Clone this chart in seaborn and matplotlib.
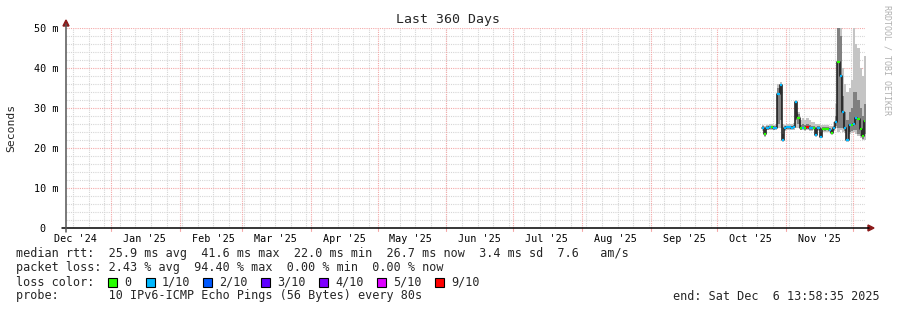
import matplotlib
matplotlib.use("Agg")
import matplotlib.pyplot as plt
import seaborn as sns
import pandas as pd
from matplotlib.patches import Polygon, Rectangle
from matplotlib.lines import Line2D

# ---------------- data ----------------
range_start = "2024-12-11 13:58:35"
range_end = "2025-12-06 13:58:35"
first_day = "2025-10-21"

median_ms = [25.1, 23.5, 25.0, 25.2, 25.2, 25.0, 25.1, 33.5, 35.7, 22.0, 25.0,
             25.2, 25.2, 25.1, 25.3, 31.6, 27.5, 25.0, 25.1, 25.0, 25.2, 25.0, 24.9, 25.1, 23.2, 25.0,
             22.8, 24.8, 24.7, 24.8, 24.6, 23.7, 25.0, 26.5, 41.6, 38.0, 29.0, 25.0, 22.0, 25.7, 25.8,
             26.0, 27.5, 27.3, 24.7, 23.0, 26.7]
smoke_outer_hi = [25.8, 25.5, 25.8, 26.0, 26.0, 25.8, 26.0, 36.0, 36.6, 26.0, 25.8,
                  26.0, 26.0, 25.9, 26.2, 32.0, 29.0, 27.0, 27.5, 27.0, 27.5, 27.0, 26.5, 26.5, 26.0, 26.0,
                  25.8, 25.8, 25.8, 25.8, 25.6, 25.5, 26.5, 31.0, 55.0, 55.0, 40.0, 36.0, 34.0, 35.0, 37.0,
                  52.0, 46.0, 45.0, 40.0, 38.0, 43.0]
smoke_outer_lo = [24.3, 22.8, 24.4, 24.5, 24.6, 24.4, 24.5, 25.0, 25.0, 21.6, 24.3,
                  24.5, 24.6, 24.4, 24.6, 25.0, 25.0, 24.4, 24.5, 24.3, 24.5, 24.3, 24.2, 24.4, 22.8, 24.3,
                  22.4, 24.1, 24.0, 24.1, 23.9, 23.2, 24.2, 25.0, 24.0, 24.5, 24.0, 23.8, 21.5, 23.5, 23.8,
                  24.0, 23.5, 23.0, 22.5, 22.0, 22.0]
smoke_inner_hi = [25.5, 24.5, 25.5, 25.6, 25.6, 25.4, 25.6, 35.0, 36.0, 23.5, 25.4,
                  25.6, 25.6, 25.5, 25.7, 31.8, 28.5, 25.8, 26.0, 25.8, 26.0, 25.7, 25.5, 25.6, 24.5, 25.5,
                  24.0, 25.3, 25.2, 25.3, 25.1, 24.5, 25.6, 28.0, 55.0, 48.0, 33.0, 29.0, 27.0, 29.0, 30.0,
                  34.0, 34.0, 32.0, 30.0, 28.0, 31.0]
smoke_inner_lo = [24.7, 23.0, 24.6, 24.8, 24.8, 24.6, 24.7, 26.0, 27.0, 21.8, 24.6,
                  24.8, 24.8, 24.7, 24.9, 27.0, 26.0, 24.6, 24.7, 24.6, 24.8, 24.6, 24.5, 24.7, 23.0, 24.6,
                  22.6, 24.4, 24.3, 24.4, 24.2, 23.4, 24.5, 25.5, 25.0, 25.0, 25.0, 24.2, 21.8, 24.0, 24.2,
                  24.5, 24.5, 23.5, 23.0, 22.3, 23.5]
loss = ['1/10', '0', '1/10', '1/10', '0', '1/10', '1/10', '1/10', '1/10', '1/10', '1/10',
        '1/10', '1/10', '1/10', '1/10', '1/10', '0', '0', '1/10', '0', '9/10', '1/10', '1/10', '0', '1/10', '1/10',
        '1/10', '0', '0', '0', '1/10', '0', '1/10', '1/10', '0', '1/10', '1/10', '1/10', '1/10', '1/10', '0',
        '1/10', '1/10', '0', '0', '0', '0']

loss_labels = ['0', '1/10', '2/10', '3/10', '4/10', '5/10', '9/10']
loss_colors = ['#26ff00', '#00b8ff', '#0059ff', '#5e00ff', '#7e00ff', '#dd00ff', '#ff0000']

month_labels = ["Dec '24", "Jan '25", "Feb '25", "Mar '25", "Apr '25", "May '25", "Jun '25",
                "Jul '25", "Aug '25", "Sep '25", "Oct '25", "Nov '25"]
y_ticks = [0, 10, 20, 30, 40, 50]
y_tick_labels = ["0  ", "10 m", "20 m", "30 m", "40 m", "50 m"]

title = "Last 360 Days"
stats_lines = [
    "median rtt:  25.9 ms avg  41.6 ms max  22.0 ms min  26.7 ms now  3.4 ms sd  7.6   am/s",
    "packet loss: 2.43 % avg  94.40 % max  0.00 % min  0.00 % now",
]
probe_line = "probe:       10 IPv6-ICMP Echo Pings (56 Bytes) every 80s"
end_line = "end: Sat Dec  6 13:58:35 2025"

# ---------------- figure ----------------
W, H = 897, 310
sns.set_style("white")
plt.rcParams['font.family'] = ['DejaVu Sans Mono', 'DejaVu Sans']
fig = plt.figure(figsize=(W / 100, H / 100), dpi=100)
fig.patch.set_facecolor("white")

L, R, T, B = 65.6, 865.4, 28, 228
ax = fig.add_axes([L / W, 1 - B / H, (R - L) / W, (B - T) / H])
ax.set_facecolor("white")

t0 = pd.Timestamp(range_start)
t1 = pd.Timestamp(range_end)
ax.set_xlim(t0, t1)
ax.set_ylim(0, 50)

# grid
minor_grid = dict(color='#d6d6d6', lw=0.8, ls=(0, (1, 1)), zorder=0)
major_grid = dict(color='#f4a8a8', lw=0.8, ls=(0, (1, 1)), zorder=0.5)
for yv in range(2, 51, 2):
    if yv % 10:
        ax.axhline(yv, **minor_grid)
for yv in range(10, 51, 10):
    ax.axhline(yv, **major_grid)
for d in pd.date_range("2024-12-15", t1, freq="7D"):
    ax.axvline(d, **minor_grid)
for d in pd.date_range("2025-01-01", t1, freq="MS"):
    ax.axvline(d, **major_grid)

# data frame
dates = pd.date_range(first_day, periods=len(median_ms), freq="D")
df = pd.DataFrame({"date": dates, "median": median_ms, "ohi": smoke_outer_hi, "olo": smoke_outer_lo,
                   "ihi": smoke_inner_hi, "ilo": smoke_inner_lo, "loss": loss})
ext = pd.concat([df, df.iloc[[-1]].assign(date=dates[-1] + pd.Timedelta(days=1))], ignore_index=True)

ax.fill_between(ext["date"], ext["olo"], ext["ohi"], step="post", color="#c4c4c4", lw=0, zorder=2)
ax.fill_between(ext["date"], ext["ilo"], ext["ihi"], step="post", color="#808080", lw=0, zorder=3)

sns.lineplot(data=ext, x="date", y="median", drawstyle="steps-post", color="#151515", lw=1.1,
             ax=ax, zorder=4, legend=False)
cmap = dict(zip(loss_labels, loss_colors))
ax.hlines(df["median"], df["date"], df["date"] + pd.Timedelta(days=1),
          colors=[cmap[l] for l in df["loss"]], lw=1.6, zorder=5)

# ticks
label_pos = [pd.Timestamp("2024-12-16") + pd.DateOffset(months=i) for i in range(len(month_labels))]
ax.set_xticks(label_pos)
ax.set_xticklabels(month_labels)
ax.set_yticks(y_ticks)
ax.set_yticklabels(y_tick_labels)
ax.tick_params(axis='both', length=0, labelsize=7.3, colors='black')
ax.tick_params(axis='x', pad=4)
ax.tick_params(axis='y', pad=5)
ax.set_xlabel("")
ax.set_ylabel("")
for s in ax.spines.values():
    s.set_visible(False)

# axis lines and arrows (figure pixel coords, origin bottom-left)
def fy(y):
    return H - y

fig.add_artist(Line2D([62 / W, 869 / W], [fy(228) / H, fy(228) / H], color='black', lw=1.1,
                      transform=fig.transFigure))
fig.add_artist(Line2D([66 / W, 66 / W], [fy(232) / H, fy(24) / H], color='#555555', lw=1.1,
                      transform=fig.transFigure))
arrow_col = '#8b1a1a'
fig.add_artist(Polygon([[868 / W, fy(225) / H], [868 / W, fy(231) / H], [874 / W, fy(228) / H]],
                       closed=True, color=arrow_col, transform=fig.transFigure))
fig.add_artist(Polygon([[63 / W, fy(26) / H], [69 / W, fy(26) / H], [66 / W, fy(20) / H]],
                       closed=True, color=arrow_col, transform=fig.transFigure))
for d in pd.date_range("2025-01-01", t1, freq="MS"):
    ax.plot([d, d], [0, -0.8], color='#f4a8a8', lw=0.8, clip_on=False, zorder=1)

# texts
fig.text(448 / W, fy(19) / H, title, ha='center', va='center', fontsize=9.5)
fig.text(11 / W, fy(128) / H, "Seconds", rotation=90, ha='center', va='center', fontsize=8.2)
fig.text(887 / W, fy(60) / H, "RRDTOOL / TOBI OETIKER", rotation=270, ha='center', va='center',
         fontsize=6.0, color='#b0b0b0')

fs = 8.5
fig.text(16 / W, fy(254) / H, stats_lines[0], ha='left', va='center', fontsize=fs)
fig.text(16 / W, fy(268) / H, stats_lines[1], ha='left', va='center', fontsize=fs)
fig.text(16 / W, fy(282) / H, "loss color:", ha='left', va='center', fontsize=fs)
box_x = [108, 146, 203, 261, 319, 377, 435]
for bx, lab, col in zip(box_x, loss_labels, loss_colors):
    fig.add_artist(Rectangle((bx / W, fy(286.5) / H), 9 / W, 9 / H, facecolor=col, edgecolor='black',
                             lw=0.8, transform=fig.transFigure))
    fig.text((bx + 16) / W, fy(282) / H, lab, ha='left', va='center', fontsize=fs)
fig.text(16 / W, fy(296) / H, probe_line, ha='left', va='center', fontsize=fs)
fig.text(880 / W, fy(296) / H, end_line, ha='right', va='center', fontsize=fs)

fig.savefig("out.png", dpi=100, facecolor="white")
